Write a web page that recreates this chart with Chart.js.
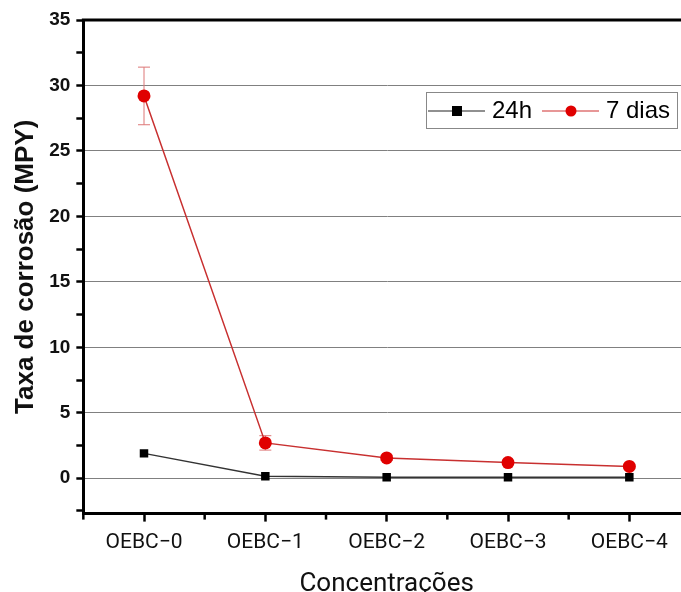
<!DOCTYPE html>
<html>
<head>
<meta charset="utf-8">
<script src="https://cdn.jsdelivr.net/npm/chart.js@4"></script>
<style>
  html, body { margin: 0; padding: 0; background: #fff; overflow: hidden; }
  #wrap { width: 700px; height: 600px; }
</style>
</head>
<body>
<div id="wrap"><canvas id="chart" width="700" height="600"></canvas></div>
<script>
const categories = ['OEBC\u22120', 'OEBC\u22121', 'OEBC\u22122', 'OEBC\u22123', 'OEBC\u22124'];
const values24h = [1.9, 0.15, 0.08, 0.08, 0.08];
const values7d = [29.2, 2.7, 1.55, 1.2, 0.9];
const errors24h = [0, 0, 0, 0, 0];
const errors7d = [2.2, 0.55, 0.2, 0.1, 0.1];
const yMajorTicks = [0, 5, 10, 15, 20, 25, 30, 35];
const yMinorTicks = [-2.5, 2.5, 7.5, 12.5, 17.5, 22.5, 27.5, 32.5];

const errorBars = {
    id: 'errorBars',
    beforeDatasetsDraw(chart) {
        const ctx = chart.ctx;
        const x = chart.scales.x, y = chart.scales.y;
        const errs = [errors24h, errors7d];
        ctx.save();
        chart.data.datasets.forEach((ds, i) => {
            ctx.strokeStyle = i === 0 ? '#555' : '#d77';
            ctx.lineWidth = 1;
            ds.data.forEach((v, j) => {
                const e = errs[i][j];
                if (!e) return;
                const px = x.getPixelForValue(j);
                const top = y.getPixelForValue(v + e);
                const bot = y.getPixelForValue(v - e);
                ctx.beginPath();
                ctx.moveTo(px, top); ctx.lineTo(px, bot);
                ctx.moveTo(px - 6, top); ctx.lineTo(px + 6, top);
                ctx.moveTo(px - 6, bot); ctx.lineTo(px + 6, bot);
                ctx.stroke();
            });
        });
        ctx.restore();
    }
};

const frame = {
    id: 'frame',
    afterDraw(chart) {
        const ctx = chart.ctx;
        const a = chart.chartArea;
        const x = chart.scales.x;
        ctx.save();
        // top border
        ctx.strokeStyle = '#000';
        ctx.lineWidth = 3;
        ctx.beginPath();
        ctx.moveTo(a.left - 1.5, a.top);
        ctx.lineTo(a.right, a.top);
        ctx.stroke();
        // minor x ticks between categories
        ctx.lineWidth = 2.5;
        const step = x.getPixelForValue(1) - x.getPixelForValue(0);
        for (let i = 0; i <= categories.length; i++) {
            const px = x.getPixelForValue(0) + (i - 0.5) * step;
            ctx.beginPath();
            ctx.moveTo(px, a.bottom);
            ctx.lineTo(px, a.bottom + 6);
            ctx.stroke();
        }
        // legend
        const lx = 426, ly = 92, lw = 251, lh = 36;
        ctx.fillStyle = '#fff';
        ctx.fillRect(lx, ly, lw, lh);
        ctx.strokeStyle = '#888';
        ctx.lineWidth = 1;
        ctx.strokeRect(lx + 0.5, ly + 0.5, lw, lh);
        const cy = ly + lh / 2 + 1;
        ctx.font = '24px "Liberation Sans", Arial, sans-serif';
        ctx.textBaseline = 'middle';
        // 24h
        ctx.strokeStyle = '#222';
        ctx.lineWidth = 1.2;
        ctx.beginPath(); ctx.moveTo(lx + 2, cy); ctx.lineTo(lx + 59, cy); ctx.stroke();
        ctx.fillStyle = '#000';
        ctx.fillRect(lx + 26, cy - 5, 10, 10);
        ctx.fillText('24h', lx + 66, cy);
        // 7 dias
        ctx.strokeStyle = '#d03030';
        ctx.beginPath(); ctx.moveTo(lx + 116, cy); ctx.lineTo(lx + 173, cy); ctx.stroke();
        ctx.fillStyle = '#e00000';
        ctx.beginPath(); ctx.arc(lx + 145, cy, 5.5, 0, Math.PI * 2); ctx.fill();
        ctx.fillStyle = '#000';
        ctx.fillText('7 dias', lx + 180, cy);
        ctx.restore();
    }
};

new Chart(document.getElementById('chart'), {
    type: 'line',
    data: {
        labels: categories,
        datasets: [
            {
                label: '24h',
                data: values24h,
                borderColor: '#333',
                borderWidth: 1.5,
                backgroundColor: '#000',
                pointStyle: 'rect',
                pointRadius: 6,
                pointBorderWidth: 0,
                tension: 0
            },
            {
                label: '7 dias',
                data: values7d,
                borderColor: '#c83030',
                borderWidth: 1.5,
                backgroundColor: '#e00000',
                pointStyle: 'circle',
                pointRadius: 6.5,
                pointBorderWidth: 0,
                tension: 0
            }
        ]
    },
    options: {
        responsive: false,
        animation: false,
        layout: { padding: { top: 20, right: 10, left: 10, bottom: 0 } },
        plugins: {
            legend: { display: false },
            tooltip: { enabled: false }
        },
        scales: {
            x: {
                offset: true,
                border: { color: '#000', width: 3 },
                grid: {
                    offset: false,
                    drawOnChartArea: false,
                    tickLength: 8,
                    tickColor: '#000',
                    tickWidth: 2.5
                },
                ticks: {
                    color: '#111',
                    padding: 9,
                    maxRotation: 0,
                    font: { family: 'Roboto', size: 21 }
                },
                title: {
                    display: true,
                    text: 'Concentrações',
                    color: '#111',
                    padding: { top: 4, bottom: 0 },
                    font: { family: 'Roboto', size: 26 }
                }
            },
            y: {
                min: -2.7,
                max: 35,
                border: { color: '#000', width: 3 },
                afterBuildTicks(axis) {
                    axis.ticks = yMajorTicks.concat(yMinorTicks)
                        .sort((a, b) => a - b)
                        .map(v => ({ value: v }));
                },
                grid: {
                    color: ctx => {
                        const v = ctx.tick && ctx.tick.value;
                        if (yMajorTicks.includes(v) && v !== 35) return '#808080';
                        return 'rgba(0,0,0,0)';
                    },
                    lineWidth: 1,
                    tickLength: 7,
                    tickColor: '#000',
                    tickWidth: 2.5
                },
                ticks: {
                    color: '#111',
                    padding: 6,
                    font: { family: '"Liberation Sans", Arial', size: 19, weight: 'bold' },
                    callback: v => yMajorTicks.includes(v) ? String(v) : ''
                },
                title: {
                    display: true,
                    text: 'Taxa de corrosão (MPY)',
                    color: '#111',
                    padding: { top: 0, bottom: 2 },
                    font: { family: '"Liberation Sans", Arial', size: 26, weight: 'bold' }
                }
            }
        }
    },
    plugins: [errorBars, frame]
});
</script>
</body>
</html>
